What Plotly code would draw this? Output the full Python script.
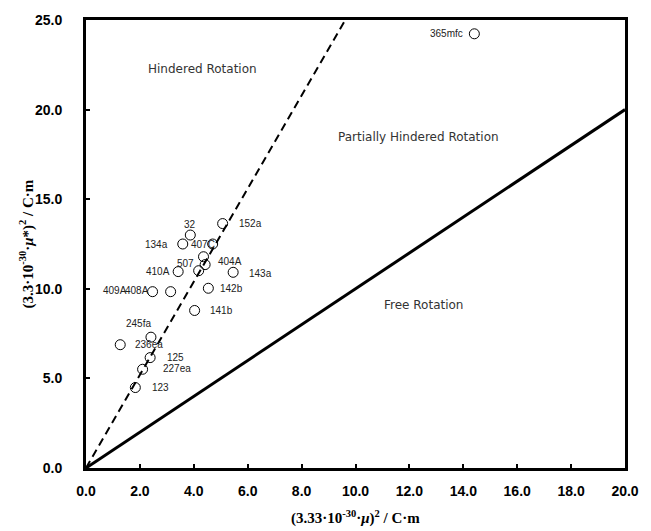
import plotly.graph_objects as go

# ---- data ----
names = ["365mfc", "152a", "32", "134a", "407C", "", "404A", "507", "410A", "143a",
         "142b", "409A", "408A", "141b", "245fa", "236ea", "125", "227ea", "123"]
mu2 = [14.41, 5.07, 3.87, 3.59, 4.70, 4.36, 4.42, 4.18, 3.42, 5.46,
       4.54, 2.47, 3.14, 4.03, 2.41, 1.27, 2.38, 2.10, 1.83]
mu_star2 = [24.23, 13.64, 13.00, 12.50, 12.50, 11.79, 11.35, 11.01, 10.96, 10.92,
            10.03, 9.84, 9.84, 8.79, 7.30, 6.88, 6.16, 5.51, 4.49]

free_line_x = [0.0, 20.0]
free_line_y = [0.0, 20.0]
hindered_line_x = [0.0, 9.62]
hindered_line_y = [0.0, 25.0]

x_ticks = [0, 2, 4, 6, 8, 10, 12, 14, 16, 18, 20]
y_ticks = [0, 5, 10, 15, 20, 25]

region_labels = ["Hindered Rotation", "Partially Hindered Rotation", "Free Rotation"]
region_x = [4.32, 12.34, 12.53]
region_y = [22.25, 18.47, 9.07]

# label placement (anchor, xshift, yshift) per point
label_place = {
    "365mfc": ("right", -9, 0), "152a": ("left", 14, 0), "32": ("center", 0, 11),
    "134a": ("right", -13, 0), "407C": ("right", 4, 0), "404A": ("left", 11, 3),
    "507": ("right", -3, 7), "410A": ("right", -6, 0), "143a": ("left", 14, -1),
    "142b": ("left", 10, 0), "409A": ("right", -24, 1), "408A": ("right", -20, 1),
    "141b": ("left", 13, 0), "245fa": ("center", -12, 14), "236ea": ("left", 13, 0),
    "125": ("left", 15, 0), "227ea": ("left", 18, 1), "123": ("left", 15, 0),
}

fig = go.Figure()

fig.add_trace(go.Scatter(x=free_line_x, y=free_line_y, mode="lines",
                         line=dict(color="black", width=3), showlegend=False, hoverinfo="skip"))
fig.add_trace(go.Scatter(x=hindered_line_x, y=hindered_line_y, mode="lines",
                         line=dict(color="black", width=2, dash="8px,5px"),
                         showlegend=False, hoverinfo="skip"))
fig.add_trace(go.Scatter(x=mu2, y=mu_star2, mode="markers",
                         marker=dict(symbol="circle-open", size=10, color="black",
                                     line=dict(width=1, color="black")),
                         showlegend=False))

annotations = []
for n, xv, yv in zip(names, mu2, mu_star2):
    if not n:
        continue
    anc, xs, ys = label_place[n]
    annotations.append(dict(x=xv, y=yv, xref="x", yref="y", text=n, showarrow=False,
                            xanchor=anc, yanchor="middle", xshift=xs, yshift=ys,
                            font=dict(family="Liberation Sans, Arial", size=10, color="#222")))
for t, xv, yv in zip(region_labels, region_x, region_y):
    annotations.append(dict(x=xv, y=yv, xref="x", yref="y", text=t, showarrow=False,
                            xanchor="center", yanchor="middle",
                            font=dict(family="DejaVu Sans", size=12, color="#333")))

annotations.append(dict(x=0.5, y=0, xref="paper", yref="paper", yanchor="top", xanchor="center",
                        yshift=-38, showarrow=False,
                        text="<b>(3.33·10<sup>-30</sup>·<i>μ</i>)<sup>2</sup> / C·m</b>",
                        font=dict(family="Liberation Serif, Times New Roman", size=15, color="black")))
annotations.append(dict(x=0, y=0.5, xref="paper", yref="paper", xanchor="right", yanchor="middle",
                        xshift=-48, showarrow=False, textangle=-90,
                        text="<b>(3.3·10<sup>-30</sup>·<i>μ</i>*)<sup>2</sup> / C·m</b>",
                        font=dict(family="Liberation Serif, Times New Roman", size=15, color="black")))

fig.update_layout(
    width=651, height=531,
    margin=dict(l=86, r=19, t=18, b=63),
    paper_bgcolor="white", plot_bgcolor="white",
    annotations=annotations,
    xaxis=dict(range=[0, 20], tickvals=x_ticks, tickformat=".1f", showgrid=False, zeroline=False,
               showline=True, linewidth=3, linecolor="black", mirror=True,
               ticks="inside", ticklen=4, tickwidth=2, tickcolor="black",
               ticklabelstandoff=8,
               tickfont=dict(family="Liberation Sans, Arial", size=14, color="black", weight="bold")),
    yaxis=dict(range=[0, 25], tickvals=y_ticks, tickformat=".1f", showgrid=False, zeroline=False,
               showline=True, linewidth=3, linecolor="black", mirror=True,
               ticks="inside", ticklen=4, tickwidth=2, tickcolor="black",
               ticklabelstandoff=18,
               tickfont=dict(family="Liberation Sans, Arial", size=14, color="black", weight="bold")),
)

fig.write_html("out.html")
